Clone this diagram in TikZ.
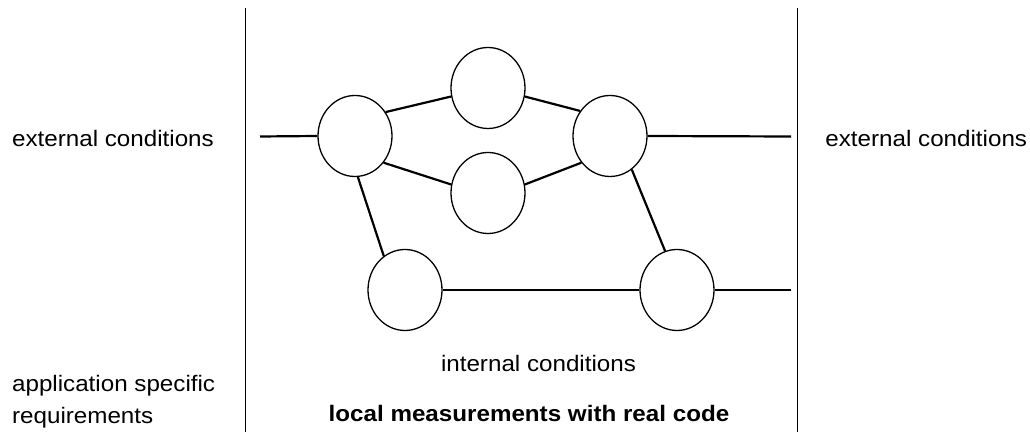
\documentclass[tikz,border=0pt]{standalone}
\usepackage{fontspec}
\setmainfont{Liberation Sans}
\usetikzlibrary{shapes.geometric}
\newcommand\widetext[1]{\scalebox{1.08}[1]{#1}}
\tikzset{
  proc/.style={ellipse, draw, line width=0.65pt, minimum width=37pt, minimum height=40.5pt, inner sep=0pt},
  link/.style={line width=1.1pt},
  frame/.style={line width=0.5pt},
  label/.style={inner sep=0pt, font=\fontsize{11.2}{13}\selectfont},
}
\begin{document}
\begin{tikzpicture}[x=0.5pt, y=-0.5pt]
  \useasboundingbox (0,0) rectangle (1030,432);

  % boundary of the measured system
  \coordinate (lt) at (245,8);   \coordinate (lb) at (245,432);
  \coordinate (rt) at (797.5,8); \coordinate (rb) at (797.5,432);
  \draw[frame] (lt) -- (lb);
  \draw[frame] (rt) -- (rb);

  % components
  \node[proc] (A) at (355,136) {};
  \node[proc] (B) at (488,88) {};
  \node[proc] (C) at (488,193) {};
  \node[proc] (D) at (610,136) {};
  \node[proc] (E) at (405,290) {};
  \node[proc] (F) at (677,290) {};

  % free ends of the external links
  \coordinate (inL) at (260,136.5);
  \coordinate (outD) at (791,136.5);
  \coordinate (outF) at (791,290);

  % links
  \draw[link] (inL) -- (A.west);
  \draw[link] (A.38) -- (B.193);
  \draw[link] (A.-43) -- (C.167);
  \draw[link] (B.-13) -- (D.140);
  \draw[link] (C.13) -- (D.223);
  \draw[link] (D.east) -- (outD);
  \draw[link] (A.-86) -- (E.122);
  \draw[link] (D.-57) -- (F.107);
  \draw[link] (E.east) -- (F.west);
  \draw[link] (F.east) -- (outF);

  % texts
  \node[label, anchor=base west] (extL) at (11.7,146.7) {\widetext{external conditions}};
  \node[label, anchor=base west] (extR) at (825,146.7) {\widetext{external conditions}};
  \node[label, anchor=base west] (app1) at (11.7,391.7) {\widetext{application specific}};
  \node[label, anchor=base west] (app2) at (11.7,423.3) {\widetext{requirements}};
  \node[label, anchor=base] (intc) at (538.5,372) {\widetext{internal conditions}};
  \node[label, anchor=base] (local) at (529,421.7) {\widetext{\bfseries local measurements with real code}};
\end{tikzpicture}
\end{document}
